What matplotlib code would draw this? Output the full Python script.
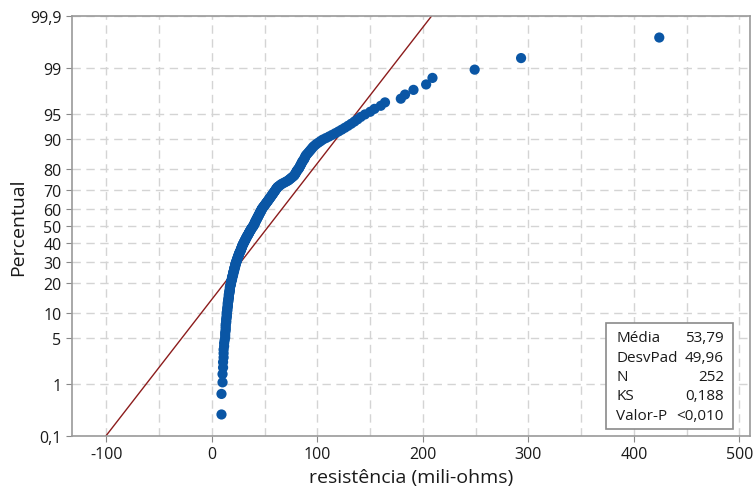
import matplotlib
matplotlib.use('Agg')
import matplotlib.pyplot as plt
from matplotlib.patches import Rectangle
from statistics import NormalDist
import numpy as np

resistencia = [
    9, 9,
    10, 10, 10.5, 10.5, 11, 11, 11, 11.5, 11.5, 12, 12.5,
    12.5, 12.5, 13, 13, 13, 13, 13.5, 13.5, 13.5, 14, 14, 14, 14,
    14.5, 14.5, 14.5, 15, 15, 15, 15, 15.5, 15.5, 15.5, 16, 16, 16, 16,
    16.5, 16.5, 16.5, 17, 17, 17, 17, 17.5, 17.5, 18, 18,
    18, 18.5, 18.5, 19, 19, 19, 19.5, 19.5, 20, 20, 20, 20.5, 20.5,
    21, 21, 21, 21.5, 21.5, 22, 22, 22, 22.5, 22.5, 23, 23,
    23.5, 23.5, 24, 24, 24.5, 24.5, 25, 25, 25.5, 25.5, 26, 26, 26.5,
    27, 27, 27.5, 27.5, 28, 28, 28.5, 28.5, 29, 29, 29.5, 30,
    30, 30.5, 31, 31, 31.5, 32, 32, 32.5, 33, 33, 33.5, 34, 34.5,
    34.5, 35, 35.5, 35.5, 36, 36.5, 37, 37, 37.5, 38, 38.5, 39,
    39.5, 39.5, 40, 40.5, 40.5, 41, 41, 41.5, 42, 42, 42.5, 43, 43,
    43.5, 44, 44, 44.5, 45, 45, 45.5, 46, 46, 46.5, 47, 47, 47.5,
    48, 48.5, 49, 49.5, 50, 50.5, 51, 51.5, 52, 52.5, 53, 53.5, 54,
    54.5, 55, 55.5, 56, 56.5, 57, 57.5, 58, 58.5, 59, 59.5, 60,
    60.5, 61, 61.5, 62, 63, 64, 65, 66, 67.5, 69, 70.5, 72, 73,
    74, 75, 76, 77, 78, 78.5, 79, 79.5, 80, 80.5, 81, 82,
    82.5, 83, 83.5, 84, 84.5, 85, 85.5, 86, 87, 87.5, 88, 88.5, 89,
    90, 91, 92, 93, 94, 95, 96, 97.5, 99, 101, 103, 105,
    108, 111, 114, 117, 120, 123, 126, 129, 132, 135, 138, 141, 145,
    150, 154, 160, 164, 179, 183, 191, 203, 209, 249, 293, 424,
]

media = 53.79
desvpad = 49.96
estat_nomes = ['Média', 'DesvPad', 'N', 'KS', 'Valor-P']
estat_valores = ['53,79', '49,96', '252', '0,188', '<0,010']

pct_ticks = [0.1, 1, 5, 10, 20, 30, 40, 50, 60, 70, 80, 90, 95, 99, 99.9]
pct_labels = ['0,1', '1', '5', '10', '20', '30', '40', '50', '60', '70',
              '80', '90', '95', '99', '99,9']
x_ticks = [-100, 0, 100, 200, 300, 400, 500]

nd = NormalDist()


def z(p):
    return nd.inv_cdf(p / 100.0)


plt.rcParams['font.family'] = ['Open Sans', 'DejaVu Sans']
plt.rcParams['axes.unicode_minus'] = False

W, H = 753, 489
fig = plt.figure(figsize=(W / 100, H / 100), dpi=100)
L, R, T, B = 72, 750, 17, 437
ax = fig.add_axes([L / W, 1 - B / H, (R - L) / W, (B - T) / H])

valores = np.sort(np.array(resistencia))
n = len(valores)
pos = (np.arange(1, n + 1) - 0.3) / (n + 0.4) * 100
ypts = [z(p) for p in pos]

# reta ajustada (normal)
zl, zh = z(0.1), z(99.9)
ax.plot([media + desvpad * zl, media + desvpad * zh], [zl, zh],
        color='#8c1c1c', lw=1.0, zorder=2)
ax.scatter(valores, ypts, s=54, color='#0a56a5', edgecolors='none', zorder=3)

ax.set_xlim(-132.7, 510)
ax.set_ylim(zl, zh)
ax.set_xticks(x_ticks)
ax.set_xticks(np.arange(-100, 501, 50), minor=True)
ax.set_yticks([z(p) for p in pct_ticks])
ax.set_yticklabels(pct_labels)

ax.grid(True, which='both', axis='x', color='#d4d4d4', ls=(0, (6, 4)), lw=1)
ax.grid(True, which='major', axis='y', color='#d4d4d4', ls=(0, (6, 4)), lw=1)
ax.set_axisbelow(True)
ax.tick_params(axis='both', which='major', labelsize=11.5, length=4,
               color='#888888', labelcolor='#1a1a1a')
ax.tick_params(axis='x', which='minor', length=0)
for s in ax.spines.values():
    s.set_color('#9a9a9a')
    s.set_linewidth(1.2)

ax.set_xlabel('resistência (mili-ohms)', fontsize=14, color='#1a1a1a', labelpad=4)
ax.set_ylabel('Percentual', fontsize=14, color='#1a1a1a', labelpad=2)


def fx(px):
    return px / W


def fy(py):
    return 1 - py / H


# caixa de estatísticas
bx0, bx1, by0, by1 = 606, 733, 324, 430
fig.patches.append(Rectangle((fx(bx0), fy(by1)), fx(bx1) - fx(bx0), fy(by0) - fy(by1),
                             transform=fig.transFigure, facecolor='white',
                             edgecolor='#8a8a8a', lw=1.2, zorder=5))
for i, (nome, val) in enumerate(zip(estat_nomes, estat_valores)):
    yy = fy(339 + i * 19.3)
    fig.text(fx(616), yy, nome, fontsize=11, va='center', ha='left', color='#1a1a1a', zorder=6)
    fig.text(fx(724), yy, val, fontsize=11, va='center', ha='right', color='#1a1a1a', zorder=6)

fig.savefig('out.png', dpi=100)
